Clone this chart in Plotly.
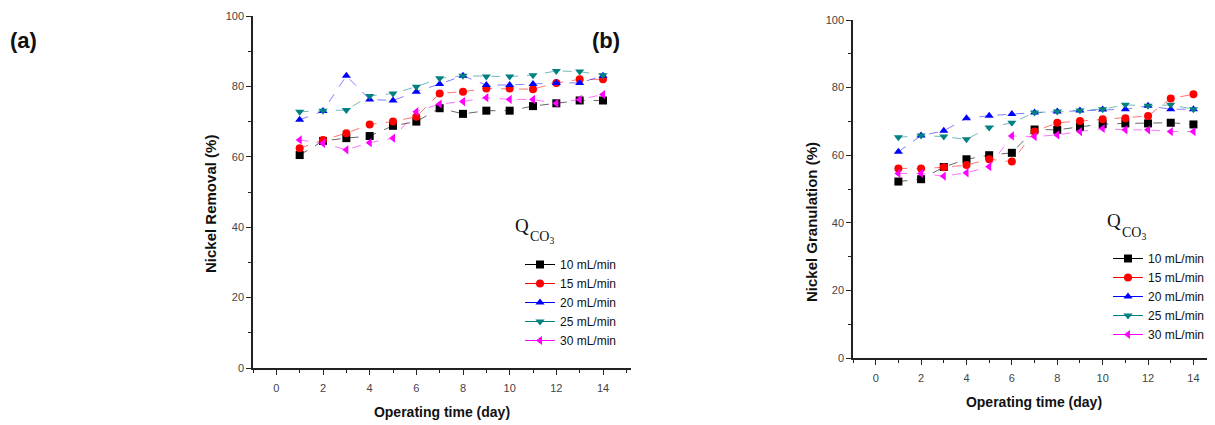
import plotly.graph_objects as go

days = list(range(1, 15))
series_names = ["10 mL/min", "15 mL/min", "20 mL/min", "25 mL/min", "30 mL/min"]

# Panel (a): Nickel Removal (%)
removal_10 = [60.5, 64.5, 65.3, 65.9, 68.8, 70.0, 73.8, 72.2, 73.1, 73.1, 74.4, 75.2, 76.0, 76.0]
removal_15 = [62.4, 64.8, 66.7, 69.2, 70.0, 71.4, 78.0, 78.5, 79.4, 79.4, 79.2, 81.0, 82.0, 82.0]
removal_20 = [70.5, 73.0, 83.0, 76.3, 76.0, 78.5, 80.7, 83.0, 80.4, 80.4, 80.7, 81.0, 81.0, 83.0]
removal_25 = [72.8, 73.1, 73.3, 77.3, 78.0, 79.9, 82.3, 83.0, 82.8, 82.8, 83.2, 84.4, 84.2, 83.2]
removal_30 = [64.8, 63.8, 62.0, 64.0, 65.3, 72.8, 75.0, 75.7, 76.8, 76.3, 76.3, 75.2, 76.3, 77.7]

# Panel (b): Nickel Granulation (%)
gran_10 = [52.2, 52.9, 56.5, 58.8, 60.0, 60.7, 67.6, 67.5, 68.4, 69.2, 69.4, 69.4, 69.6, 69.1]
gran_15 = [56.1, 56.1, 56.4, 57.1, 58.8, 58.1, 67.0, 69.6, 70.1, 70.6, 70.9, 71.6, 76.8, 78.0]
gran_20 = [61.0, 65.8, 67.2, 70.9, 71.7, 72.2, 72.6, 72.9, 73.2, 73.5, 73.6, 74.6, 73.6, 73.6]
gran_25 = [65.3, 65.8, 65.5, 64.7, 68.2, 69.6, 72.6, 72.9, 73.2, 73.6, 74.9, 74.6, 74.9, 73.6]
gran_30 = [54.6, 54.6, 53.8, 54.8, 56.6, 65.7, 65.5, 66.0, 67.0, 67.9, 67.5, 67.5, 67.0, 67.0]

x_ticks = [0, 2, 4, 6, 8, 10, 12, 14]
y_ticks = [0, 20, 40, 60, 80, 100]

colors = ["#000000", "#ff0000", "#0000ff", "#008080", "#ff00ff"]
line_colors = ["rgba(0,0,0,0.6)", "rgba(255,0,0,0.55)", "rgba(0,0,255,0.5)",
               "rgba(0,128,128,0.55)", "rgba(255,0,255,0.55)"]
symbols = ["square", "circle", "triangle-up", "triangle-down", "triangle-left"]

# page body has an 8px margin; figure sized to fit the window
OFF = 8
W, H = 1215 - OFF, 425 - OFF

fig = go.Figure()

panel_a = [removal_10, removal_15, removal_20, removal_25, removal_30]
panel_b = [gran_10, gran_15, gran_20, gran_25, gran_30]

for panel, xa, ya, leg in [(panel_a, "x", "y", "legend"), (panel_b, "x2", "y2", "legend2")]:
    for i, (name, vals) in enumerate(zip(series_names, panel)):
        fig.add_trace(go.Scatter(
            x=days, y=vals, name=name, mode="lines+markers", showlegend=False,
            marker=dict(symbol=symbols[i], size=8, color=colors[i], line=dict(width=0)),
            line=dict(color=line_colors[i], width=1, dash="dash"),
            xaxis=xa, yaxis=ya))
    # legend entries drawn with solid lines, as in the original
    for i, name in enumerate(series_names):
        fig.add_trace(go.Scatter(
            x=[None], y=[None], name=name, mode="lines+markers", showlegend=True,
            marker=dict(symbol=symbols[i], size=8, color=colors[i], line=dict(width=0)),
            line=dict(color=colors[i], width=1),
            xaxis=xa, yaxis=ya, legend=leg))

def px_x(p):
    return (p - OFF) / W

def px_y(p):
    return (H - (p - OFF)) / H

tickfont = dict(family="Arial, Liberation Sans, sans-serif", size=11, color="#444")
common_x = dict(tickmode="array", tickvals=x_ticks, ticks="outside", ticklen=5, tickwidth=1,
                tickcolor="#222", showline=True, linecolor="#222", linewidth=1.5,
                showgrid=False, zeroline=False, tickfont=tickfont, automargin=False,
                ticklabelstandoff=4,
                minor=dict(dtick=1, tick0=0, ticks="outside", ticklen=3, tickcolor="#222", showgrid=False),
                title=dict(text="<b>Operating time (day)</b>",
                           font=dict(family="Arial, Liberation Sans, sans-serif", size=14, color="#111"),
                           standoff=14))
common_y = dict(tickmode="array", tickvals=y_ticks, range=[0, 100], ticks="outside", ticklen=5,
                tickwidth=1, tickcolor="#222", showline=True, linecolor="#222", linewidth=1.5,
                showgrid=False, zeroline=False, tickfont=tickfont, automargin=False,
                minor=dict(dtick=10, tick0=0, ticks="outside", ticklen=3, tickcolor="#222", showgrid=False))

legfont = dict(family="Arial, Liberation Sans, sans-serif", size=12, color="#111")
fig.update_layout(
    width=W, height=H,
    margin=dict(l=0, r=0, t=0, b=0, autoexpand=False),
    paper_bgcolor="white", plot_bgcolor="white",
    xaxis=dict(domain=[px_x(253), px_x(631)], range=[-1, 15.2], anchor="y", **common_x),
    yaxis=dict(domain=[px_y(368), px_y(16)], anchor="x", **common_y),
    xaxis2=dict(domain=[px_x(853), 1.0], range=[-1, 14.95], anchor="y2", **common_x),
    yaxis2=dict(domain=[px_y(358), px_y(20)], anchor="x2", **common_y),
    legend=dict(x=px_x(520), y=px_y(250), xanchor="left", yanchor="top",
                bgcolor="rgba(0,0,0,0)", borderwidth=0, tracegroupgap=0, font=legfont),
    legend2=dict(x=px_x(1108), y=px_y(244), xanchor="left", yanchor="top",
                 bgcolor="rgba(0,0,0,0)", borderwidth=0, tracegroupgap=0, font=legfont),
)

serif = "Times New Roman, Liberation Serif, serif"
sans = "Arial, Liberation Sans, sans-serif"
ann = []
# y-axis titles
ann.append(dict(text="<b>Nickel Removal (%)</b>", x=px_x(211), y=px_y(204), xref="paper", yref="paper",
                xanchor="center", yanchor="middle", showarrow=False, textangle=-90,
                font=dict(family=sans, size=15, color="#111")))
ann.append(dict(text="<b>Nickel Granulation (%)</b>", x=px_x(812), y=px_y(222), xref="paper", yref="paper",
                xanchor="center", yanchor="middle", showarrow=False, textangle=-90,
                font=dict(family=sans, size=15, color="#111")))
# panel labels
ann.append(dict(text="<b>(a)</b>", x=px_x(8), y=px_y(41), xref="paper", yref="paper",
                xanchor="left", yanchor="middle", showarrow=False,
                font=dict(family=sans, size=22, color="#111")))
ann.append(dict(text="<b>(b)</b>", x=px_x(590), y=px_y(41), xref="paper", yref="paper",
                xanchor="left", yanchor="middle", showarrow=False,
                font=dict(family=sans, size=22, color="#111")))
# Q_CO3 legend titles
for qx, qy in [(513, 225), (1105, 221)]:
    ann.append(dict(text="Q", x=px_x(qx), y=px_y(qy), xref="paper", yref="paper",
                    xanchor="left", yanchor="middle", showarrow=False,
                    font=dict(family=serif, size=19, color="#111")))
    ann.append(dict(text="CO<sub>3</sub>", x=px_x(qx + 15), y=px_y(qy + 12), xref="paper", yref="paper",
                    xanchor="left", yanchor="middle", showarrow=False,
                    font=dict(family=serif, size=14, color="#111")))
fig.update_layout(annotations=ann)

fig.write_html("out.html")
